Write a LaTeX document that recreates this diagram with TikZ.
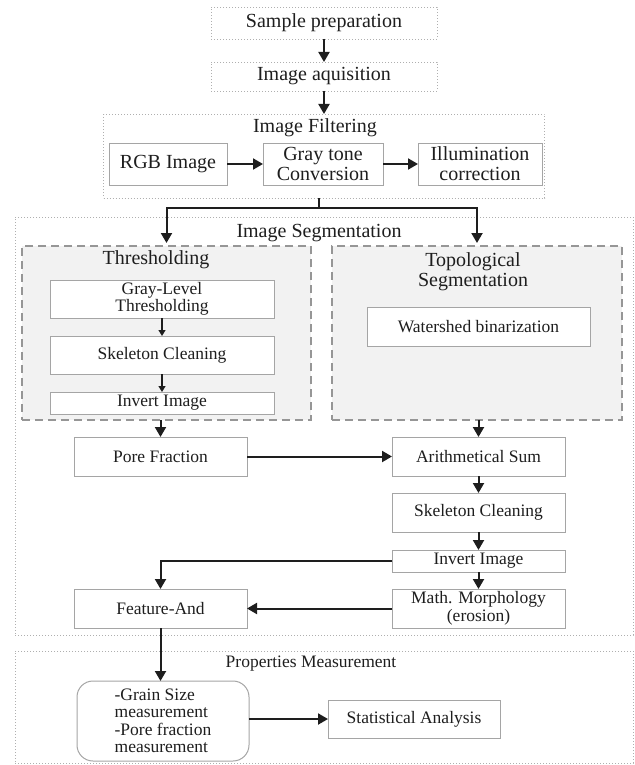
\documentclass[tikz,border=0pt]{standalone}
\usepackage{fontspec}
\setmainfont{Liberation Serif}
\usetikzlibrary{arrows.meta,positioning}
\definecolor{ink}{RGB}{30,30,30}
\definecolor{boxline}{RGB}{165,165,165}
\definecolor{dotline}{RGB}{175,175,175}
\definecolor{dashline}{RGB}{150,150,150}
\definecolor{shade}{RGB}{242,242,242}
\tikzset{
  every picture/.style={color=ink, line width=1pt},
  big/.style={font=\fontsize{20}{20}\selectfont},
  small/.style={font=\fontsize{17.5}{17.5}\selectfont},
  box/.style={draw=boxline, line width=1pt, fill=white, inner sep=2pt, outer sep=0pt, align=center, text=ink},
  stage/.style={draw=dotline, line width=0.8pt, dash pattern=on 1pt off 2pt, inner sep=0pt, outer sep=0pt, align=center},
  group/.style={draw=dashline, fill=shade, line width=2pt, dash pattern=on 8pt off 5pt, inner sep=0pt, outer sep=0pt},
  title/.style={big, inner sep=0pt, align=center, text=ink},
  flow/.style={-{Triangle[length=10pt,width=11pt]}, line width=2pt},
  minor/.style={-{Triangle[length=6pt,width=7pt]}, line width=1.2pt},
}

\begin{document}
\begin{tikzpicture}[x=1pt,y=-1pt]
  \useasboundingbox (0,0) rectangle (634,765);
  % acquisition and filtering
  \node[stage, big, minimum width=226pt, minimum height=32pt] (sample) at (324,23) {Sample preparation};
  \node[stage, big, minimum width=226pt, minimum height=29pt, below=23pt of sample] (acq) {Image aquisition};
  \node[stage, minimum width=441pt, minimum height=84pt, below=23pt of acq] (filt) {};
  \node[title] (filtT) at (315,128) {Image Filtering};
  \node[box, big, minimum width=118pt, minimum height=42pt] (rgb) at (168,164) {RGB Image};
  \node[box, big, minimum width=120pt, minimum height=42pt, right=36pt of rgb] (gray) {Gray tone\\Conversion};
  \node[box, big, minimum width=124pt, minimum height=42pt, right=35pt of gray] (illum) {Illumination\\correction};
  % segmentation
  \node[stage, minimum width=618pt, minimum height=418pt] (seg) at (324,426) {};
  \node[title] (segT) at (319,233) {Image Segmentation};
  \node[group, minimum width=289pt, minimum height=174pt] (thr) at (166.5,333) {};
  \node[title] (thrT) at (156,260) {Thresholding};
  \node[box, small, minimum width=224pt, minimum height=38pt] (level) at (162,299) {Gray-Level\\Thresholding};
  \node[box, small, minimum width=224pt, minimum height=38pt, below=18pt of level] (clean) {Skeleton Cleaning};
  \node[box, small, minimum width=224pt, minimum height=22pt, below=18pt of clean] (invert) {Invert Image};
  \node[group, minimum width=290pt, minimum height=174pt] (topo) at (477,333) {};
  \node[title] (topoT) at (473,272) {Topological\\Segmentation};
  \node[box, small, minimum width=223pt, minimum height=39pt] (shed) at (478.5,326.5) {Watershed binarization};
  \node[box, small, minimum width=173pt, minimum height=39pt] (pore) at (160.5,456.5) {Pore Fraction};
  \node[box, small, minimum width=173pt, minimum height=39pt, right=145pt of pore] (sum) {Arithmetical Sum};
  \node[box, small, minimum width=173pt, minimum height=39pt, below=17pt of sum] (clean2) {Skeleton Cleaning};
  \node[box, small, minimum width=173pt, minimum height=22pt, below=18pt of clean2] (invert2) {Invert Image};
  \node[box, small, minimum width=173pt, minimum height=39pt, below=17pt of invert2] (morph) {Math. Morphology\\(erosion)};
  \node[box, small, minimum width=173pt, minimum height=39pt, left=145pt of morph] (feature) {Feature-And};
  % measurement
  \node[stage, minimum width=618pt, minimum height=112pt] (prop) at (324,707) {};
  \node[title, small] (propT) at (311,664) {Properties Measurement};
  \node[box, small, rounded corners=16pt, minimum width=172pt, minimum height=80pt, align=left] (meas) at (163,721) {-Grain Size\\measurement\\-Pore fraction\\measurement};
  \node[box, small, minimum width=172pt, minimum height=38pt] (stat) at (414,719) {Statistical Analysis};
  % connectors
  \draw[flow] (sample) -- (acq);
  \draw[flow] (acq) -- (filt);
  \draw[flow] (rgb) -- (gray);
  \draw[flow] (gray) -- (illum);
  \coordinate (split) at (319,208);
  \draw[line width=2pt] (filt.south -| split) -- (split);
  \draw[flow, shorten >=3pt] (split) -| (thr.north);
  \draw[flow, shorten >=3pt] (split) -| (topo.north);
  \draw[minor] (level) -- (clean);
  \draw[minor] (clean) -- (invert);
  \draw[flow] (thr.south -| pore.north) -- (pore.north);
  \draw[flow] (topo.south -| sum.north) -- (sum.north);
  \draw[flow] (pore) -- (sum);
  \draw[flow] (sum) -- (clean2);
  \draw[flow] (clean2) -- (invert2);
  \draw[flow] (invert2) -- (morph);
  \draw[flow] (invert2.west) -| (feature.north);
  \draw[flow] (morph) -- (feature);
  \draw[flow] (feature.south) -- (feature.south |- meas.north);
  \draw[flow] (meas.east |- stat) -- (stat.west);
\end{tikzpicture}
\end{document}
